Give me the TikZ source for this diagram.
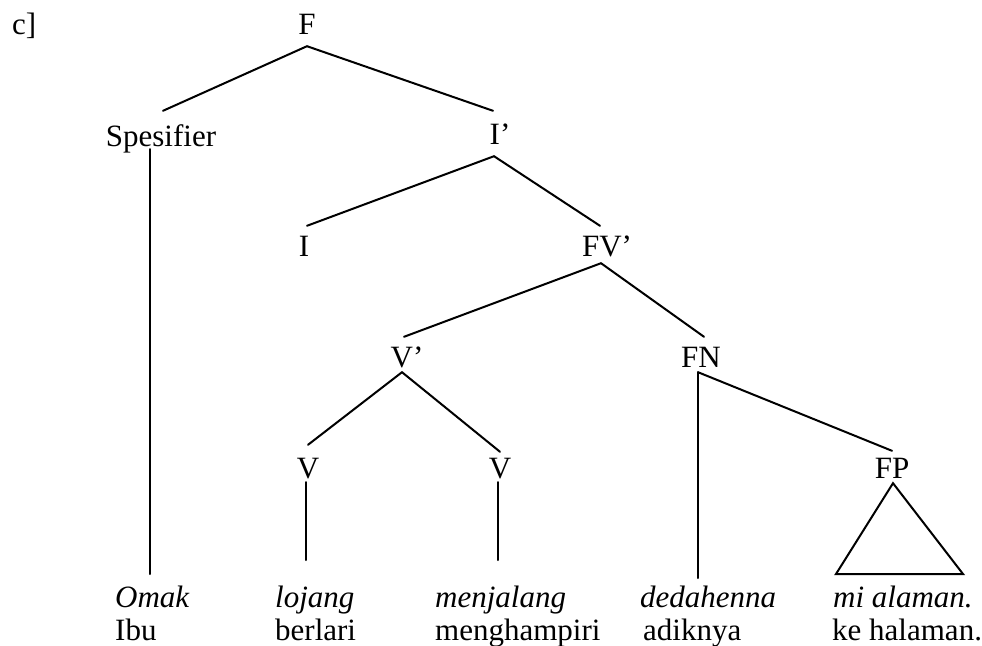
\documentclass[tikz,border=0pt]{standalone}
\usepackage{fontspec}
\setmainfont{Liberation Serif}
\begin{document}
\begin{tikzpicture}[x=1pt,y=-1pt,
  font=\fontsize{31}{37}\selectfont,
  cat/.style={anchor=base, text height=23pt, text depth=0pt, inner xsep=2pt, inner ysep=7pt},
  word/.style={anchor=base west, inner sep=0pt},
  gloss/.style={word, font=\fontsize{31}{37}\selectfont\itshape},
  branch/.style={line width=2pt, line cap=round}]
\useasboundingbox (0,0) rectangle (982,645);

% label of the example
\node[word] (lbl) at (12,34) {c]};

% category nodes (positioned by baseline)
\node[cat] (F)    at (307,34)  {F};
\node[cat] (Spec) at (161,146) {Spesifier};
\node[cat] (Ib)   at (500,144) {I’};
\node[cat] (I)    at (304,256) {I};
\node[cat] (FVb)  at (607,256) {FV’};
\node[cat] (Vb)   at (407,367) {V’};
\node[cat] (FN)   at (701,367) {FN};
\node[cat] (Va)   at (308,478) {V};
\node[cat] (Vc)   at (500,478) {V};
\node[cat] (FP)   at (892,478) {FP};

% leaves: original line and gloss
\node[gloss] (w1) at (115,607) {Omak};
\node[word]  (g1) at (115,640) {Ibu};
\node[gloss] (w2) at (275,607) {lojang};
\node[word]  (g2) at (275,640) {berlari};
\node[gloss] (w3) at (435,607) {menjalang};
\node[word]  (g3) at (435,640) {menghampiri};
\node[gloss] (w4) at (640,607) {dedahenna};
\node[word]  (g4) at (643,640) {adiknya};
\node[gloss] (w5) at (833,607) {mi alaman.};
\node[word]  (g5) at (832,640) {ke halaman.};

% lower ends of the terminal branches
\coordinate (e1) at (150,574);
\coordinate (e2) at (306,560);
\coordinate (e3) at (498,560);
\coordinate (e4) at (698,578);
\coordinate (tl) at (836,574);
\coordinate (tr) at (963,574);

% branches
\draw[branch] ([yshift=-5pt]F.south) -- ([xshift=2pt,yshift=5pt]Spec.north);
\draw[branch] ([yshift=-5pt]F.south) -- ([xshift=-7pt,yshift=3pt]Ib.north);
\draw[branch] ([xshift=-11pt,yshift=4pt]Spec.south) -- (e1);
\draw[branch] ([xshift=-6pt,yshift=-5pt]Ib.south) -- ([xshift=3pt]I.north);
\draw[branch] ([xshift=-6pt,yshift=-5pt]Ib.south) -- ([xshift=-7pt]FVb.north);
\draw[branch] ([xshift=-6pt]FVb.south) -- ([xshift=-3pt]Vb.north);
\draw[branch] ([xshift=-6pt]FVb.south) -- ([xshift=3pt]FN.north);
\draw[branch] ([xshift=-5pt,yshift=2pt]Vb.south) -- ([yshift=3pt]Va.north);
\draw[branch] ([xshift=-5pt,yshift=2pt]Vb.south) -- ([yshift=-4pt]Vc.north);
\draw[branch] ([xshift=-2pt,yshift=3pt]Va.south) -- (e2);
\draw[branch] ([xshift=-2pt,yshift=3pt]Vc.south) -- (e3);
\draw[branch] ([xshift=-3pt,yshift=2pt]FN.south) -- (e4);
\draw[branch] ([xshift=-3pt,yshift=2pt]FN.south) -- ([yshift=-3pt]FP.north);
\draw[branch, line join=miter] ([xshift=1pt,yshift=2pt]FP.south) -- (tl) -- (tr) -- cycle;
\end{tikzpicture}
\end{document}
